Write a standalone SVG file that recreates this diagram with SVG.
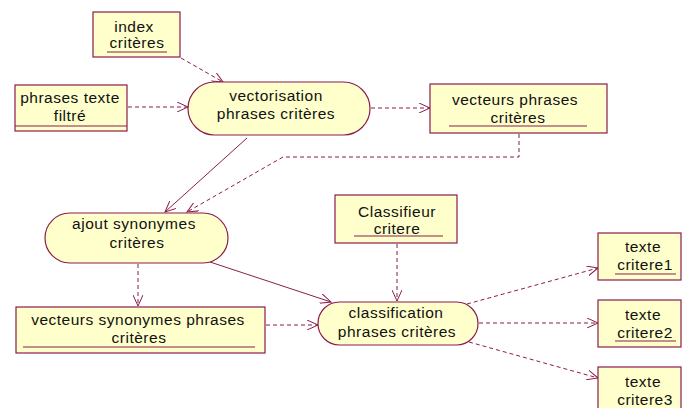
<svg xmlns="http://www.w3.org/2000/svg" width="682" height="408" viewBox="0 0 682 408">
<defs>
<marker id="ah" viewBox="0 0 12 10" refX="11" refY="5" markerWidth="12" markerHeight="10" markerUnits="userSpaceOnUse" orient="auto">
<path d="M0,0 L11,5 L0,10" fill="none" stroke="#8c1c4c" stroke-width="1"/>
</marker>
<style>
.n{fill:#ffffcc;stroke:#8c1c4c;stroke-width:1.2}
.u{stroke:#8c1c4c;stroke-width:1.2}
.t{font-family:"Liberation Sans",Arial,sans-serif;font-size:15.5px;letter-spacing:0.5px;fill:#111;text-anchor:middle}
.d{fill:none;stroke:#8c1c4c;stroke-width:1;stroke-dasharray:4,3;marker-end:url(#ah)}
.s{fill:none;stroke:#8c1c4c;stroke-width:1;marker-end:url(#ah)}
</style>
</defs>
<rect width="682" height="408" fill="#fff"/>
<g id="connectors">
<path class="d" d="M181,58 L223,82"/>
<path class="d" d="M128,107 L188,107"/>
<path class="d" d="M371,108 L430,108"/>
<path class="d" d="M519,134 L519,157 L283,157 L187,212"/>
<path class="s" d="M247,138 L165,212"/>
<path class="d" d="M138,264 L138,306"/>
<path class="s" d="M210,262 L331,302"/>
<path class="d" d="M266,325 L318,325"/>
<path class="d" d="M397,244 L397,301"/>
<path class="d" d="M467,304 L598,268"/>
<path class="d" d="M479,323 L598,323"/>
<path class="d" d="M469,342 L598,378"/>
</g>
<g id="index">
<rect class="n" x="93" y="12" width="87" height="45"/>
<text class="t" x="134" y="32">index</text>
<text class="t" x="137" y="48">critères</text>
<line class="u" x1="107" y1="52" x2="167" y2="52"/>
</g>
<g id="phrases">
<rect class="n" x="15" y="85" width="112" height="46"/>
<text class="t" x="70" y="103">phrases texte</text>
<text class="t" x="70" y="121">filtré</text>
<line class="u" x1="15" y1="126" x2="127" y2="126"/>
</g>
<g id="vectorisation">
<rect class="n" x="188" y="82" width="182" height="53" rx="26.5"/>
<text class="t" x="276" y="101">vectorisation</text>
<text class="t" x="276" y="119">phrases critères</text>
</g>
<g id="vecteurs">
<rect class="n" x="430" y="84" width="177" height="49"/>
<text class="t" x="515" y="105">vecteurs phrases</text>
<text class="t" x="518" y="123">critères</text>
<line class="u" x1="449" y1="126" x2="587" y2="126"/>
</g>
<g id="ajout">
<rect class="n" x="45" y="213" width="183" height="50" rx="25"/>
<text class="t" x="134" y="229">ajout synonymes</text>
<text class="t" x="137" y="248">critères</text>
</g>
<g id="vecteurs_syn">
<rect class="n" x="16" y="307" width="249" height="46"/>
<text class="t" x="138" y="325">vecteurs synonymes phrases</text>
<text class="t" x="139" y="343">critères</text>
<line class="u" x1="23" y1="347" x2="255" y2="347"/>
</g>
<g id="classifieur">
<rect class="n" x="335" y="195" width="122" height="48"/>
<text class="t" x="397" y="217">Classifieur</text>
<text class="t" x="397" y="234">critere</text>
<line class="u" x1="354" y1="236" x2="443" y2="236"/>
</g>
<g id="classification">
<rect class="n" x="318" y="302" width="160" height="43" rx="21.5"/>
<text class="t" x="396" y="318">classification</text>
<text class="t" x="397" y="337">phrases critères</text>
</g>
<g id="critere1">
<rect class="n" x="598" y="233" width="83" height="47"/>
<text class="t" x="643" y="252">texte</text>
<text class="t" x="645" y="270">critere1</text>
<line class="u" x1="615" y1="274" x2="676" y2="274"/>
</g>
<g id="critere2">
<rect class="n" x="598" y="300" width="83" height="47"/>
<text class="t" x="643" y="320">texte</text>
<text class="t" x="645" y="338">critere2</text>
<line class="u" x1="615" y1="341" x2="676" y2="341"/>
</g>
<g id="critere3">
<rect class="n" x="598" y="367" width="83" height="47"/>
<text class="t" x="643" y="387">texte</text>
<text class="t" x="645" y="405">critere3</text>
</g>
</svg>
